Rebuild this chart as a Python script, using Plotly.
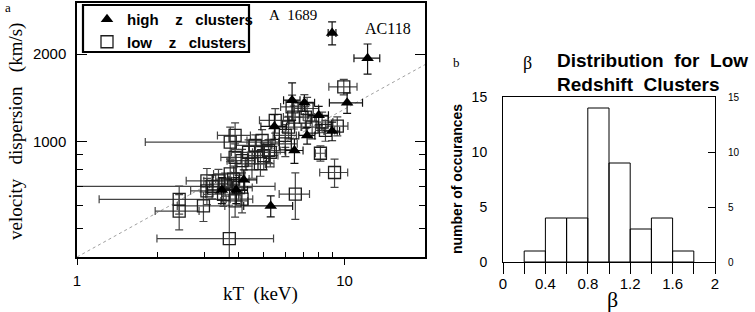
import plotly.graph_objects as go

W, H = 755, 312

# ---------------- Panel a data ----------------
high_T = [8.99, 12.2, 10.23, 6.37, 7.08, 8.01, 8.99, 7.25, 5.47, 6.50, 4.20, 3.48, 3.94, 5.30]
high_sigma = [2366, 1937, 1359, 1388, 1359, 1231, 1086, 1049, 1127, 931, 738, 681, 681, 600]
high_dT = [0.30, 1.35, 1.45, 0.45, 0.65, 0.70, 0.60, 0.50, 0.60, 0.50, 0.50, 0.40, 0.40, 1.10]
high_dsigma = [215, 230, 110, 205, 90, 90, 80, 70, 110, 90, 60, 70, 70, 50]

low_T = [9.94, 9.18, 8.13, 6.55, 3.71, 2.41, 2.41, 3.74, 3.20,
         3.90, 4.38, 4.14, 3.90, 4.64, 4.51, 4.99, 4.85, 5.28,
         3.06, 3.58, 3.85, 4.02, 3.06, 3.53, 3.90, 4.14, 2.97, 3.74, 3.38,
         6.37, 6.46, 6.18, 6.01, 7.25, 8.25, 8.49, 9.40, 7.57, 7.14, 5.51, 4.92, 5.20, 6.01]
low_sigma = [1543, 782, 911, 659, 463, 632, 576, 995, 700,
             1049, 918, 859, 882, 969, 837, 894, 839, 918,
             732, 713, 742, 694, 676, 658, 624, 633, 600, 773, 732,
             1315, 1214, 1121, 1049, 1299, 1167, 1092, 1130, 1121, 1214, 1183, 1008, 931, 982]
low_dT = [1.20, 1.10, 0.35, 0.85, 1.72, 1.20, 0.45, 1.94, 2.30,
          0.55, 0.60, 0.50, 0.45, 0.70, 0.55, 0.65, 0.60, 0.75,
          0.50, 0.45, 0.55, 0.50, 0.40, 0.50, 0.45, 0.40, 0.60, 0.50, 0.40,
          0.60, 0.55, 0.70, 0.60, 0.75, 0.80, 0.70, 0.90, 0.65, 0.60, 0.70, 0.60, 0.55, 0.65]
low_dsigma = [95, 87, 55, 120, 140, 70, 80, 125, 65,
              110, 95, 80, 100, 85, 90, 95, 80, 100,
              75, 65, 80, 70, 70, 60, 75, 65, 70, 80, 70,
              130, 110, 100, 95, 120, 95, 90, 85, 100, 105, 115, 90, 85, 95]

fit_T = [1, 20]
fit_sigma = [400, 1840]

x_major = [1, 10]
x_minor = [2, 3, 4, 5, 6, 7, 8, 9]
y_major = [1000, 2000]
y_minor = [500, 600, 700, 800, 900]

# ---------------- Panel b data ----------------
beta_centers = [0.3, 0.5, 0.7, 0.9, 1.1, 1.3, 1.5, 1.7]
beta_counts = [1, 4, 4, 14, 9, 3, 4, 1]
beta_ticks = [0, 0.2, 0.4, 0.6, 0.8, 1.0, 1.2, 1.4, 1.6, 1.8, 2.0]
beta_ticktext = ["0", "", "0.4", "", "0.8", "", "1.2", "", "1.6", "", "2"]
count_ticks = [0, 5, 10, 15]


def px(x):
    return x / W


def py(y):
    return 1 - y / H


SANS = "Liberation Sans, Arial, Helvetica, sans-serif"
SERIF = "Liberation Serif, Times New Roman, serif"
NB = "\u00a0"

fig = go.Figure()

fig.add_trace(go.Scatter(
    x=fit_T, y=fit_sigma, mode="lines",
    line=dict(color="#a0a0a0", width=1, dash="dot"),
    showlegend=False, hoverinfo="skip", xaxis="x", yaxis="y"))

fig.add_trace(go.Scatter(
    x=low_T, y=low_sigma, mode="markers",
    name=f"low{NB * 4}z{NB * 3}clusters", legendrank=2,
    marker=dict(symbol="square-open", size=12, color="#1e1e1e", line=dict(width=1.3)),
    error_x=dict(type="data", array=low_dT, color="#444444", thickness=1.2, width=4),
    error_y=dict(type="data", array=low_dsigma, color="#444444", thickness=1.2, width=4),
    xaxis="x", yaxis="y"))

fig.add_trace(go.Scatter(
    x=high_T, y=high_sigma, mode="markers",
    name=f"high{NB * 4}z{NB * 3}clusters", legendrank=1,
    marker=dict(symbol="triangle-up", size=11, color="black"),
    error_x=dict(type="data", array=high_dT, color="#111111", thickness=1.2, width=4),
    error_y=dict(type="data", array=high_dsigma, color="#111111", thickness=1.2, width=4),
    xaxis="x", yaxis="y"))

fig.add_trace(go.Bar(
    x=beta_centers, y=beta_counts, width=0.2,
    marker=dict(color="rgba(0,0,0,0)", line=dict(color="black", width=1)),
    showlegend=False, hoverinfo="skip", xaxis="x2", yaxis="y2"))

fig.add_trace(go.Scatter(
    x=[beta_centers[0]], y=[beta_counts[0]], mode="markers",
    marker=dict(opacity=0), showlegend=False, hoverinfo="skip",
    xaxis="x2", yaxis="y3"))

annotations = [
    dict(text="a", x=px(3), y=py(7), xanchor="left", yanchor="middle",
         font=dict(family=SERIF, size=13, color="black")),
    dict(text="b", x=px(451), y=py(63), xanchor="left", yanchor="middle",
         font=dict(family=SERIF, size=13, color="black")),
    dict(text=f"A{NB}{NB}1689", x=px(293), y=py(15), xanchor="center", yanchor="middle",
         font=dict(family=SERIF, size=15, color="black")),
    dict(text="AC118", x=px(388), y=py(28), xanchor="center", yanchor="middle",
         font=dict(family=SERIF, size=16, color="black")),
    dict(text=f"kT{NB}{NB}(keV)", x=px(260), y=py(294), xanchor="center", yanchor="middle",
         font=dict(family=SERIF, size=19, color="black")),
    dict(text=f"velocity{NB}{NB}{NB}dispersion{NB}{NB}{NB}(km/s)", x=px(16), y=py(132),
         xanchor="center", yanchor="middle", textangle=-90,
         font=dict(family=SERIF, size=19, color="black")),
    dict(text="β", x=px(521), y=py(63), xanchor="left", yanchor="middle",
         font=dict(family=SERIF, size=18, color="black")),
    dict(text=f"<b>Distribution{NB}{NB}for{NB}{NB}Low</b>", x=px(555), y=py(61),
         xanchor="left", yanchor="middle", font=dict(family=SANS, size=19, color="black")),
    dict(text=f"<b>Redshift{NB}{NB}Clusters</b>", x=px(555), y=py(85), xanchor="left",
         yanchor="middle", font=dict(family=SANS, size=19, color="black")),
    dict(text="<b>number of occurances</b>", x=px(457), y=py(179), xanchor="center",
         yanchor="middle", textangle=-90, font=dict(family=SANS, size=14, color="black")),
    dict(text="β", x=px(612), y=py(299), xanchor="center", yanchor="middle",
         font=dict(family=SERIF, size=22, color="black")),
]
for a in annotations:
    a.update(xref="paper", yref="paper", showarrow=False)

fig.update_layout(
    width=W, height=H, autosize=False,
    margin=dict(l=0, r=0, t=0, b=0, autoexpand=False),
    paper_bgcolor="white", plot_bgcolor="white",
    showlegend=True,
    legend=dict(x=px(87), y=py(3), xanchor="left", yanchor="top",
                bgcolor="rgba(0,0,0,0)", borderwidth=0,
                font=dict(family=SANS, size=15, color="black", weight="bold"),
                tracegroupgap=0, itemwidth=30),
    xaxis=dict(type="log", range=[0, 1.30103], domain=[px(77), px(425)],
               anchor="y", showline=True, linecolor="black", linewidth=1.5, mirror=True,
               showgrid=False, zeroline=False,
               tickmode="array", tickvals=x_major, ticktext=["1", "10"],
               ticks="outside", ticklen=6, tickcolor="black",
               tickfont=dict(family=SANS, size=15, color="black"), ticklabelstandoff=3,
               minor=dict(tickmode="array", tickvals=x_minor, ticks="inside", ticklen=5,
                          tickcolor="black", showgrid=False)),
    yaxis=dict(type="log", range=[2.60206, 3.47712], domain=[py(257), py(3)],
               anchor="x", showline=True, linecolor="black", linewidth=1.5, mirror="ticks",
               showgrid=False, zeroline=False,
               tickmode="array", tickvals=y_major, ticktext=["1000", "2000"],
               ticks="inside", ticklen=10, tickcolor="black",
               tickfont=dict(family=SANS, size=15, color="black"), ticklabelstandoff=6,
               minor=dict(tickmode="array", tickvals=y_minor, ticks="inside", ticklen=6,
                          tickcolor="black", showgrid=False)),
    xaxis2=dict(range=[0, 2], domain=[px(503), px(715)], anchor="y2",
                showline=True, linecolor="black", linewidth=1, mirror=True,
                showgrid=False, zeroline=False,
                tickmode="array", tickvals=beta_ticks, ticktext=beta_ticktext,
                ticks="outside", ticklen=11, tickcolor="black",
                tickfont=dict(family=SANS, size=15, color="black"), ticklabelstandoff=-3),
    yaxis2=dict(range=[0, 15], domain=[py(262), py(97)], anchor="x2",
                showline=True, linecolor="black", linewidth=1, mirror=True,
                showgrid=False, zeroline=False,
                tickmode="array", tickvals=count_ticks, ticks="",
                tickfont=dict(family=SANS, size=14, color="black"), ticklabelstandoff=12),
    yaxis3=dict(range=[0, 15], overlaying="y2", side="right", anchor="x2",
                showline=False, showgrid=False, zeroline=False,
                tickmode="array", tickvals=count_ticks, ticks="inside", ticklen=7,
                tickcolor="black",
                tickfont=dict(family=SANS, size=10, color="black"), ticklabelstandoff=12),
    shapes=[dict(type="rect", xref="paper", yref="paper",
                 x0=px(83), x1=px(249), y0=py(52), y1=py(5),
                 line=dict(color="black", width=2.2), fillcolor="white", layer="above")],
    annotations=annotations,
)

fig.write_html("out.html", config={"displayModeBar": False},
               post_script="document.body.style.margin='0';document.body.style.overflow='hidden';")
